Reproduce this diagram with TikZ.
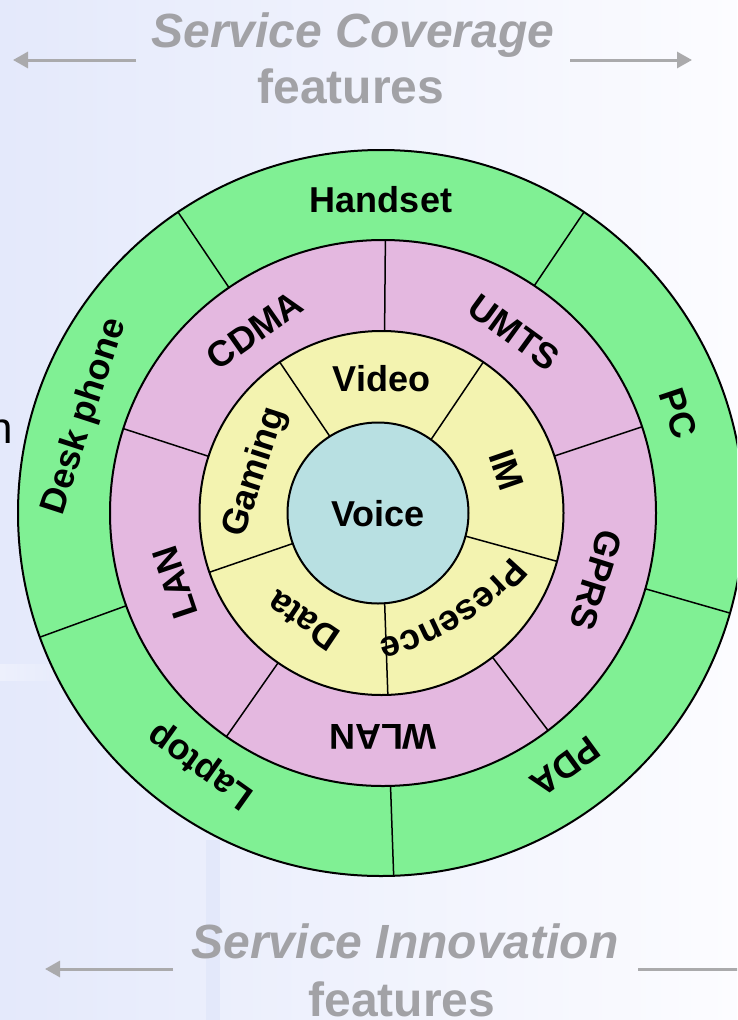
\documentclass[tikz,border=0pt]{standalone}
\usepackage{fontspec}
\setmainfont{Liberation Sans}
\usetikzlibrary{arrows.meta,decorations.text,calc}
\definecolor{ringgreen}{RGB}{128,240,148}
\definecolor{ringpink}{RGB}{228,184,224}
\definecolor{ringyellow}{RGB}{243,243,176}
\definecolor{voiceblue}{RGB}{184,224,226}
\definecolor{titlegray}{RGB}{162,162,166}
\definecolor{arrowgray}{RGB}{170,170,172}
\definecolor{bgleft}{RGB}{228,233,251}
\definecolor{bgright}{RGB}{252,252,255}
\definecolor{streakblue}{RGB}{205,215,248}
\begin{document}
\begin{tikzpicture}[x=1pt,y=1pt,
  ring/.style={draw=black, line width=2pt},
  divider/.style={draw=black, line width=1.5pt},
  lbl/.style={font=\fontsize{36}{36}\selectfont\bfseries, text=black, inner sep=0pt, text height=26pt, text depth=0pt},
  title/.style={font=\fontsize{48}{48}\selectfont\bfseries\itshape, text=titlegray, inner sep=0pt, anchor=base},
  subtitle/.style={font=\fontsize{48}{48}\selectfont\bfseries, text=titlegray, inner sep=0pt, anchor=base},
  sidearrow/.style={draw=arrowgray, line width=3pt, -{Triangle[length=15pt,width=16pt]}},
]
\clip (0,0) rectangle (737,-1020);
\useasboundingbox (0,0) rectangle (737,-1020);
\shade[left color=bgleft, right color=bgright] (0,0) rectangle (737,-1020);
% faint background streaks
\fill[white, opacity=0.35] (250,0) -- (290,0) -- (150,340) -- (120,340) -- cycle;
\fill[streakblue, opacity=0.25] (206,-840) rectangle (220,-1020);
\shade[left color=white, right color=bgleft, opacity=0.35] (0,-664) rectangle (80,-680);

% centres
\coordinate (O) at (381,-513);
\coordinate (Op) at (383,-513);
\coordinate (Oy) at (381.5,-513);
\coordinate (Ov) at (378,-513);

% outer ring
\draw[ring, fill=ringgreen] (O) circle[radius=363];
\foreach \a in {56,124,200,272,344}
  \draw[divider, shift={(O)}] (\a:260) -- (\a:363);
% middle ring
\draw[ring, fill=ringpink] (Op) circle[radius=273];
\foreach \a in {89.5,18.4,-52.8,235,162}
  \draw[divider, shift={(Op)}] (\a:170) -- (\a:273);
% inner ring
\draw[ring, fill=ringyellow] (Oy) circle[radius=182];
\foreach \a in {56,124,199,272,344.6}
  \draw[divider, shift={(Oy)}] (\a:80) -- (\a:182);
% centre
\draw[ring, fill=voiceblue] (Ov) circle[radius=90.5];

% outer labels
\node[lbl] (handset) at ($(O)+(90:314)$) {Handset};
\node[lbl, rotate=-71.5] (pc) at ($(O)+(18.5:314)$) {PC};
\node[lbl, rotate=-144] (pda) at ($(O)+(-54:314)$) {PDA};
\node[lbl, rotate=144.5] (laptop) at ($(O)+(234.5:314)$) {Laptop};
\node[lbl, rotate=72] (desk) at ($(O)+(162:315)$) {Desk phone};
% middle labels
\node[lbl, rotate=35] (cdma) at ($(Op)+(125:224)$) {CDMA};
\node[lbl, rotate=-36] (umts) at ($(Op)+(54:224)$) {UMTS};
\node[lbl, rotate=-107.5] (gprs) at ($(Op)+(-17.5:224)$) {GPRS};
\node[lbl, rotate=180] (wlan) at ($(Op)+(270:224)$) {WLAN};
\node[lbl, rotate=108.5] (lan) at ($(Op)+(198.5:220)$) {LAN};
% inner labels
\node[lbl] (video) at ($(Oy)+(90:135)$) {Video};
\node[lbl, rotate=-71] (im) at ($(Oy)+(19:133)$) {IM};
\node[lbl, rotate=146] (data) at ($(Oy)+(234:134)$) {Data};
\node[lbl, rotate=72] (gaming) at ($(Oy)+(162:136)$) {Gaming};
\coordinate (presC) at (319.2,-396.5);
\path[decorate, decoration={text along path, text align=center,
  text={|\fontsize{36}{36}\selectfont\bfseries|Presence}}]
  ($(presC)+(-30:250)$) arc[start angle=-30, end angle=-86, radius=250];
\node[lbl] (voice) at (Ov) {Voice};

% stray fragment at left edge
\node[font=\fontsize{44}{44}\selectfont, anchor=base east, inner sep=0pt] (frag) at (13,-443) {n};

% titles
\node[title] (cov) at (353,-47) {Service Coverage};
\node[subtitle] (covf) at (351,-103) {features};
\node[title] (inn) at (405,-958) {Service Innovation};
\node[subtitle] (innf) at (402,-1016) {features};

% side arrows
\coordinate (tlA) at (136,-60); \coordinate (tlB) at (13,-60);
\coordinate (trA) at (570,-60); \coordinate (trB) at (692,-60);
\coordinate (blA) at (173,-969); \coordinate (blB) at (45,-969);
\coordinate (brA) at (638,-969); \coordinate (brB) at (770,-969);
\draw[sidearrow] (tlA) -- (tlB);
\draw[sidearrow] (trA) -- (trB);
\draw[sidearrow] (blA) -- (blB);
\draw[sidearrow] (brA) -- (brB);
\end{tikzpicture}
\end{document}
